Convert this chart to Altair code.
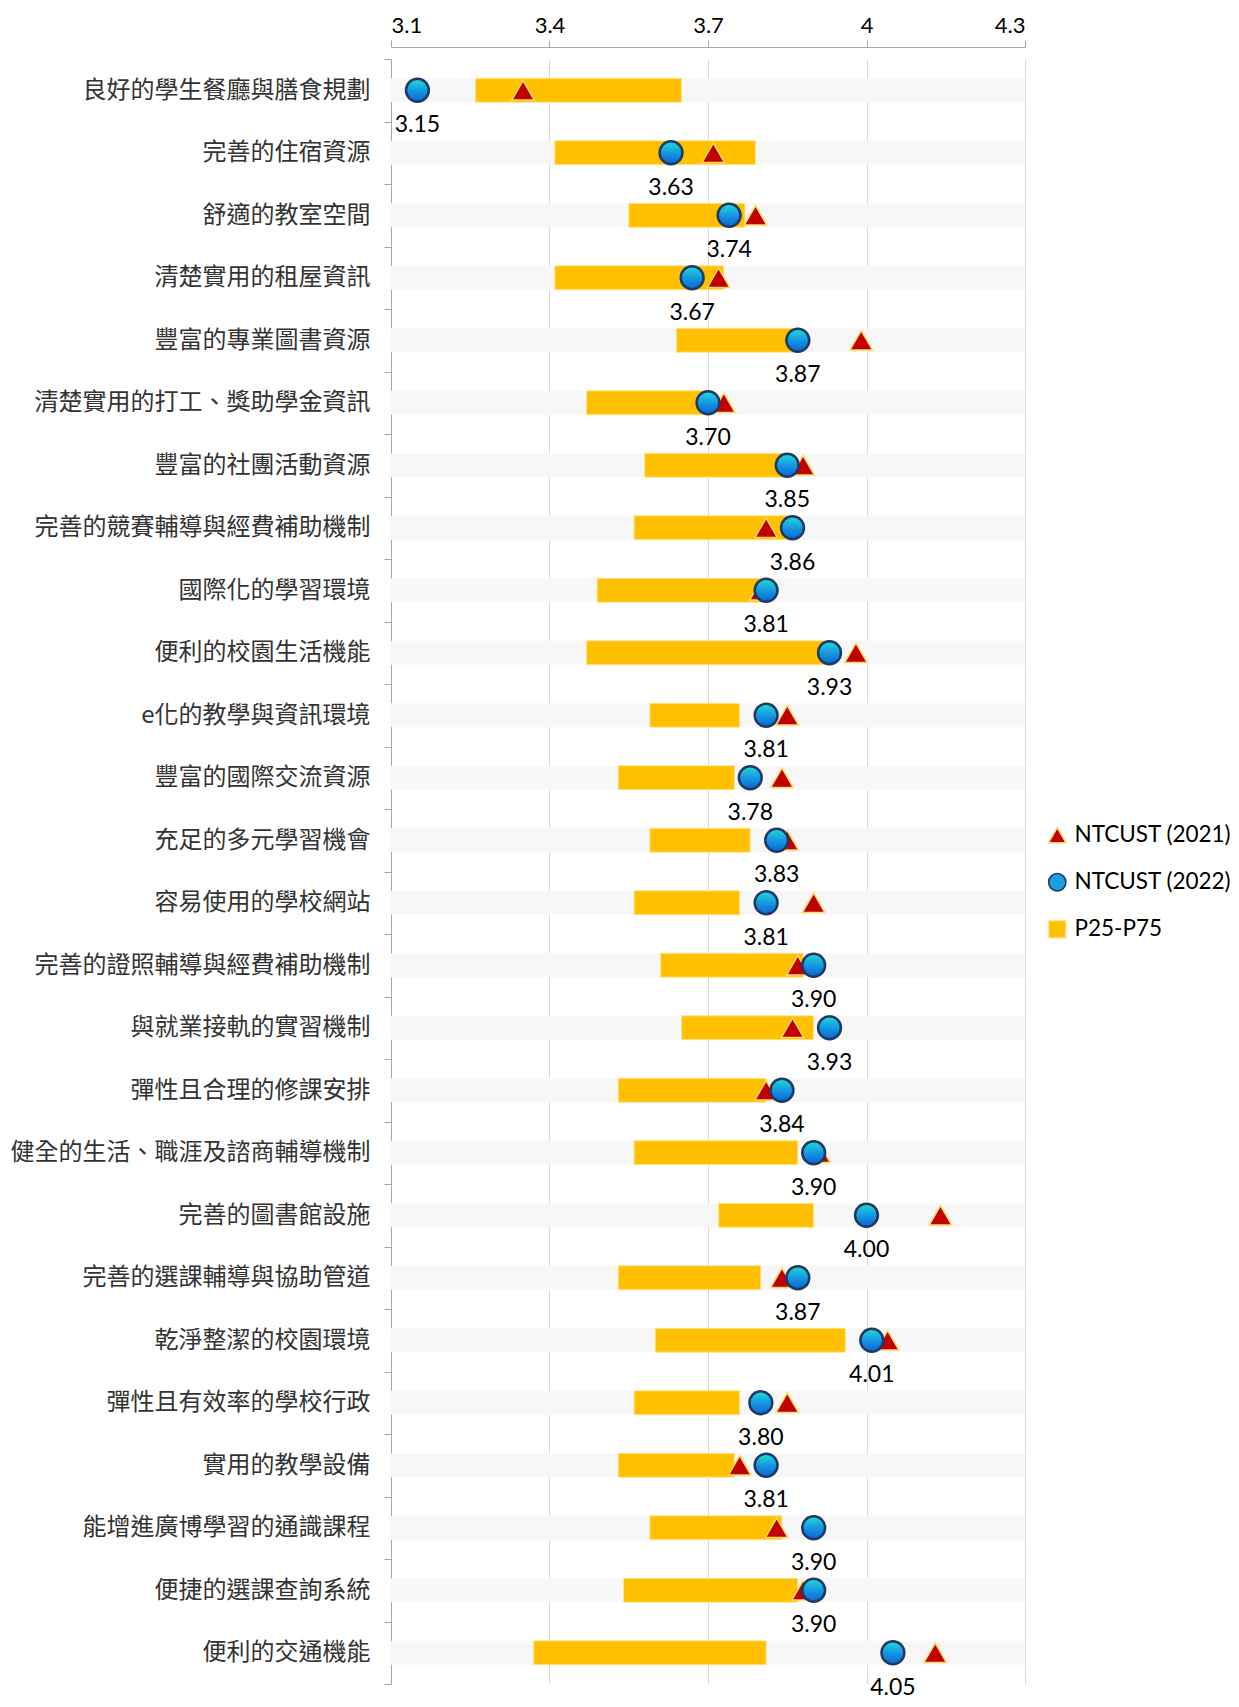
import altair as alt
import pandas as pd

categories = [
    "良好的學生餐廳與膳食規劃", "完善的住宿資源", "舒適的教室空間", "清楚實用的租屋資訊",
    "豐富的專業圖書資源", "清楚實用的打工、獎助學金資訊", "豐富的社團活動資源",
    "完善的競賽輔導與經費補助機制", "國際化的學習環境", "便利的校園生活機能",
    "e化的教學與資訊環境", "豐富的國際交流資源", "充足的多元學習機會", "容易使用的學校網站",
    "完善的證照輔導與經費補助機制", "與就業接軌的實習機制", "彈性且合理的修課安排",
    "健全的生活、職涯及諮商輔導機制", "完善的圖書館設施", "完善的選課輔導與協助管道",
    "乾淨整潔的校園環境", "彈性且有效率的學校行政", "實用的教學設備",
    "能增進廣博學習的通識課程", "便捷的選課查詢系統", "便利的交通機能",
]
p25 = [3.26, 3.41, 3.55, 3.41, 3.64, 3.47, 3.58, 3.56, 3.49, 3.47, 3.59, 3.53, 3.59,
       3.56, 3.61, 3.65, 3.53, 3.56, 3.72, 3.53, 3.60, 3.56, 3.53, 3.59, 3.54, 3.37]
p75 = [3.65, 3.79, 3.77, 3.73, 3.87, 3.70, 3.85, 3.86, 3.81, 3.93, 3.76, 3.75, 3.78,
       3.76, 3.88, 3.90, 3.81, 3.87, 3.90, 3.80, 3.96, 3.76, 3.75, 3.84, 3.87, 3.81]
score_2021 = [3.35, 3.71, 3.79, 3.72, 3.99, 3.73, 3.88, 3.81, 3.80, 3.98, 3.85, 3.84, 3.85,
              3.90, 3.87, 3.86, 3.81, 3.91, 4.14, 3.84, 4.04, 3.85, 3.76, 3.83, 3.88, 4.13]
score_2022 = [3.15, 3.63, 3.74, 3.67, 3.87, 3.70, 3.85, 3.86, 3.81, 3.93, 3.81, 3.78, 3.83,
              3.81, 3.90, 3.93, 3.84, 3.90, 4.00, 3.87, 4.01, 3.80, 3.81, 3.90, 3.90, 4.05]
tick_values = [3.1, 3.4, 3.7, 4.0, 4.3]
series_names = ["NTCUST (2021)", "NTCUST (2022)", "P25-P75"]
x_min, x_max = 3.1, 4.3

df = pd.DataFrame({
    "item": categories, "p25": p25, "p75": p75,
    "y2021": score_2021, "y2022": score_2022,
    "lo": [x_min] * len(categories), "hi": [x_max] * len(categories),
})

x_scale = alt.Scale(domain=[x_min, x_max], nice=False, zero=False)
x_axis = alt.Axis(orient="top", values=tick_values, format=".1~f", title=None, offset=12,
                  labelFont="Lato", labelFontSize=22, labelColor="black", labelPadding=3,
                  tickSize=7, tickColor="#A6A6A6", domainColor="#A6A6A6",
                  grid=True, gridColor="#D9D9D9", gridWidth=1)


def xenc(field):
    return alt.X(field, type="quantitative", scale=x_scale, axis=x_axis)


y_enc = alt.Y("item:N", sort=categories,
              scale=alt.Scale(paddingInner=0, paddingOuter=0),
              axis=alt.Axis(title=None, labelFont="Noto Sans CJK TC", labelFontSize=24,
                            labelColor="#333333", labelLimit=0, tickBand="extent",
                            tickSize=7, tickColor="#A6A6A6", domainColor="#A6A6A6",
                            labelPadding=14, grid=False))

color_scale = alt.Scale(domain=series_names, range=["#C00000", "#1E9FE0", "#FFC000"])
shape_scale = alt.Scale(domain=series_names, range=["triangle-up", "circle", "square"])
stroke_scale = alt.Scale(domain=series_names, range=["#FFD966", "#1F3864", "#FFE699"])
legend = alt.Legend(title=None, orient="none", legendX=655, legendY=765,
                    labelFont="Lato", labelFontSize=22.5, labelColor="black",
                    symbolSize=300, symbolStrokeWidth=1.5, rowPadding=23, labelOffset=6)

base = alt.Chart(df)

bg = base.mark_bar(size=24, color="#F7F7F7").encode(
    x=xenc("lo"), x2="hi:Q", y=y_enc)

bar = base.transform_calculate(series="'P25-P75'").mark_bar(size=24, strokeWidth=1).encode(
    x=xenc("p25"), x2="p75:Q", y=y_enc,
    color=alt.Color("series:N", scale=color_scale, legend=legend),
    stroke=alt.Stroke("series:N", scale=stroke_scale, legend=legend))

tri = base.transform_calculate(series="'NTCUST (2021)'").mark_point(
    filled=True, size=500, strokeWidth=1.5, opacity=1).encode(
    x=xenc("y2021"), y=y_enc,
    color=alt.Color("series:N", scale=color_scale, legend=legend),
    shape=alt.Shape("series:N", scale=shape_scale, legend=legend),
    stroke=alt.Stroke("series:N", scale=stroke_scale, legend=legend))

gradient = alt.LinearGradient(
    gradient="linear", x1=0, x2=0, y1=0, y2=1,
    stops=[alt.GradientStop(color="#20DCD8", offset=0),
           alt.GradientStop(color="#1592E0", offset=0.55),
           alt.GradientStop(color="#0A66D0", offset=1)])

circ = base.mark_point(shape="circle", filled=True, size=520, fill=gradient,
                       stroke="#1F3864", strokeWidth=2.5, opacity=1).encode(
    x=xenc("y2022"), y=y_enc)

labels = base.mark_text(dy=35, font="Lato", fontSize=23, color="black").encode(
    x=xenc("y2022"), y=y_enc, text=alt.Text("y2022:Q", format=".2f"))

chart = alt.layer(bg, bar, tri, circ, labels).properties(
    width=634, height=1625,
    padding={"left": 383, "top": 51, "right": 206, "bottom": 15},
    autosize=alt.AutoSizeParams(type="none"),
).configure_view(stroke=None)

chart.save("out.html", embed_options={"renderer": "svg", "actions": False})
